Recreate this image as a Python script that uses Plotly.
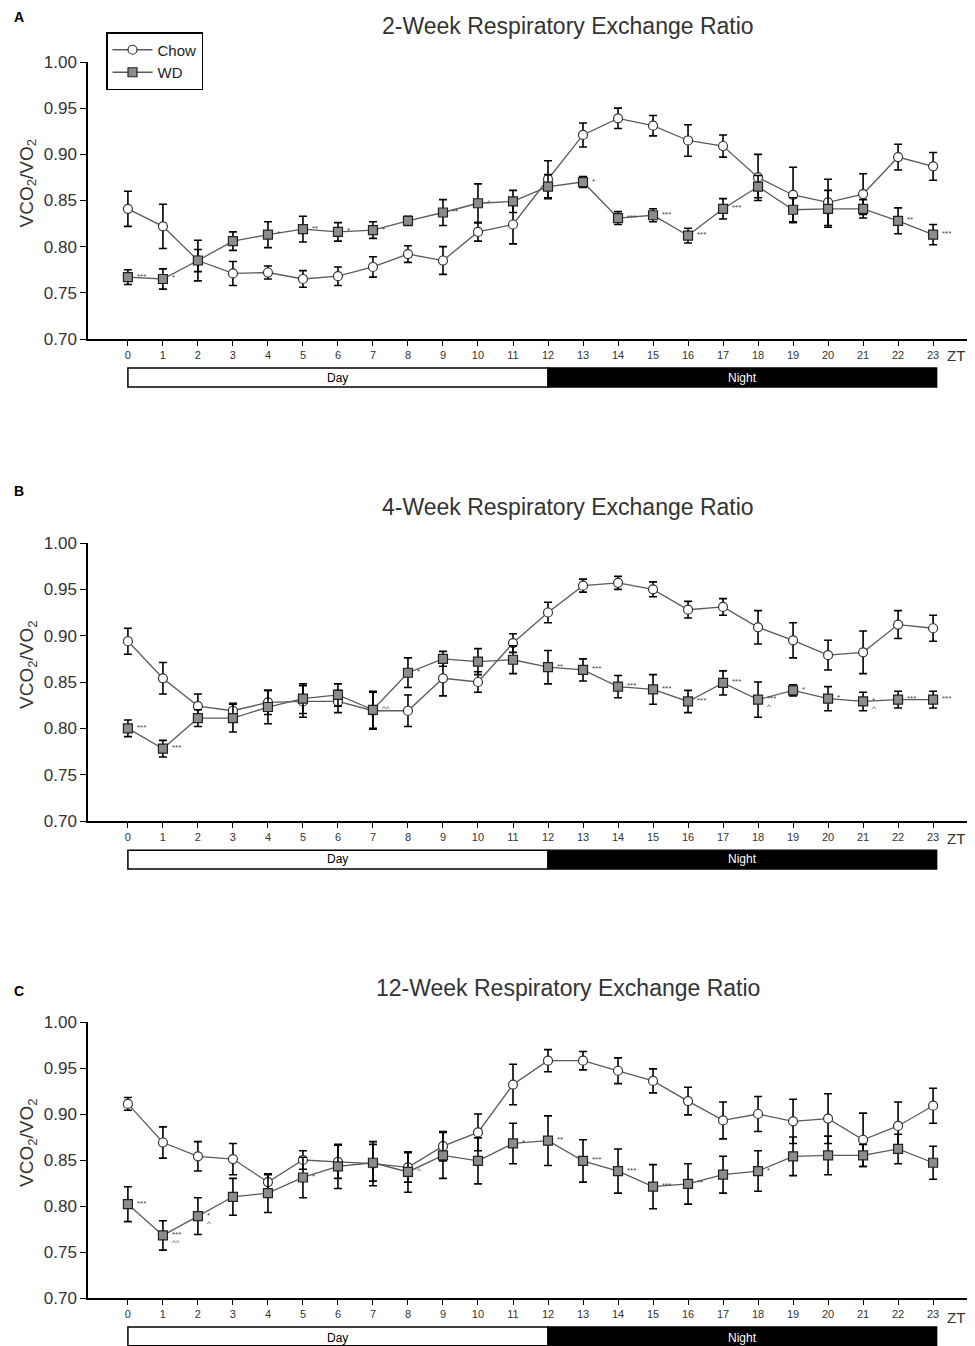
import plotly.graph_objects as go

zt = list(range(24))
zt_labels = [str(i) for i in zt]

# ---- 2-week ----
chow_2wk = [0.841, 0.822, 0.785, 0.771, 0.772, 0.765, 0.768, 0.778, 0.792, 0.785, 0.816, 0.824,
            0.873, 0.921, 0.939, 0.931, 0.915, 0.909, 0.875, 0.856, 0.848, 0.857, 0.897, 0.887]
chow_2wk_err = [0.019, 0.024, 0.012, 0.013, 0.007, 0.009, 0.010, 0.011, 0.009, 0.015, 0.010, 0.021,
                0.020, 0.013, 0.011, 0.011, 0.017, 0.012, 0.025, 0.030, 0.025, 0.022, 0.014, 0.015]
wd_2wk = [0.767, 0.765, 0.785, 0.806, 0.813, 0.819, 0.816, 0.818, 0.828, 0.837, 0.847, 0.849,
          0.865, 0.870, 0.831, 0.834, 0.812, 0.841, 0.865, 0.840, 0.841, 0.841, 0.828, 0.813]
wd_2wk_err = [0.008, 0.011, 0.022, 0.010, 0.014, 0.014, 0.010, 0.009, 0.005, 0.014, 0.021, 0.012,
              0.013, 0.006, 0.007, 0.007, 0.008, 0.011, 0.012, 0.013, 0.020, 0.010, 0.014, 0.011]
sig_2wk = ["***", "*", "", "", "*", "**", "*", "*", "", "**", "^", "",
           "", "*", "***", "***", "***", "***", "", "", "", "", "**", "***"]
hat_2wk = [""] * 24

# ---- 4-week ----
chow_4wk = [0.894, 0.854, 0.824, 0.819, 0.828, 0.829, 0.829, 0.819, 0.819, 0.854, 0.850, 0.892,
            0.925, 0.954, 0.957, 0.950, 0.928, 0.931, 0.909, 0.895, 0.879, 0.882, 0.912, 0.908]
chow_4wk_err = [0.014, 0.017, 0.013, 0.008, 0.013, 0.017, 0.012, 0.020, 0.017, 0.019, 0.011, 0.010,
                0.011, 0.007, 0.007, 0.008, 0.009, 0.009, 0.018, 0.019, 0.016, 0.023, 0.015, 0.014]
wd_4wk = [0.800, 0.778, 0.811, 0.811, 0.823, 0.832, 0.836, 0.820, 0.860, 0.875, 0.872, 0.874,
          0.866, 0.863, 0.845, 0.842, 0.829, 0.849, 0.831, 0.841, 0.832, 0.829, 0.831, 0.831]
wd_4wk_err = [0.009, 0.009, 0.009, 0.015, 0.018, 0.016, 0.012, 0.020, 0.016, 0.008, 0.014, 0.015,
              0.018, 0.012, 0.012, 0.016, 0.012, 0.013, 0.019, 0.006, 0.013, 0.010, 0.009, 0.009]
sig_4wk = ["***", "***", "", "", "", "", "", "^^", "*", "", "", "",
           "**", "***", "***", "***", "***", "***", "***", "*", "*", "*", "***", "***"]
hat_4wk = [""] * 18 + ["^", "", "", "^", "", ""]

# ---- 12-week ----
chow_12wk = [0.911, 0.869, 0.854, 0.851, 0.826, 0.850, 0.848, 0.846, 0.842, 0.865, 0.880, 0.932,
             0.958, 0.958, 0.947, 0.936, 0.914, 0.893, 0.900, 0.892, 0.895, 0.872, 0.887, 0.909]
chow_12wk_err = [0.007, 0.017, 0.016, 0.017, 0.008, 0.010, 0.018, 0.024, 0.016, 0.016, 0.020, 0.022,
                 0.012, 0.010, 0.014, 0.013, 0.015, 0.020, 0.019, 0.024, 0.027, 0.029, 0.026, 0.019]
wd_12wk = [0.802, 0.768, 0.789, 0.810, 0.814, 0.831, 0.843, 0.847, 0.837, 0.855, 0.849, 0.868,
           0.871, 0.849, 0.838, 0.821, 0.824, 0.834, 0.838, 0.854, 0.855, 0.855, 0.862, 0.847]
wd_12wk_err = [0.019, 0.016, 0.020, 0.020, 0.021, 0.022, 0.024, 0.020, 0.022, 0.025, 0.025, 0.022,
               0.027, 0.023, 0.024, 0.024, 0.022, 0.020, 0.022, 0.021, 0.021, 0.012, 0.016, 0.018]
sig_12wk = ["***", "***", "*", "", "", "*", "", "", "^", "", "", "*",
            "**", "***", "***", "***", "**", "", "*", "", "", "", "", ""]
hat_12wk = ["", "^^", "^", ""] + [""] * 20

panels = [
    ("A", "2-Week Respiratory Exchange Ratio", chow_2wk, chow_2wk_err, wd_2wk, wd_2wk_err, sig_2wk, hat_2wk),
    ("B", "4-Week Respiratory Exchange Ratio", chow_4wk, chow_4wk_err, wd_4wk, wd_4wk_err, sig_4wk, hat_4wk),
    ("C", "12-Week Respiratory Exchange Ratio", chow_12wk, chow_12wk_err, wd_12wk, wd_12wk_err, sig_12wk, hat_12wk),
]

W, H = 975.0, 1346.0
OFF = 8  # page body margin


def fx(p):  # target page pixel -> paper x
    return (p - OFF) / W


def fy(p):  # target page pixel -> paper y
    return 1 - (p - OFF) / H


# target page pixels
pix = [(62, 339), (543, 821), (1022, 1298)]     # axis top / bottom
label_y = [17, 491, 991]
title_y = [26, 507, 988]
bar_y = [377.5, 858.5, 1337.5]
zt_y = [356, 838, 1317]

FONT = "Arial, Liberation Sans, sans-serif"
fig = go.Figure()
shapes = []
annotations = []

for k, (lab, title, chow, chow_e, wd, wd_e, sig, hat) in enumerate(panels):
    sfx = "" if k == 0 else str(k + 1)
    xa, ya = "x" + sfx, "y" + sfx
    fig.add_trace(go.Scatter(
        x=zt, y=chow, name="Chow", mode="lines+markers", xaxis=xa, yaxis=ya,
        line=dict(color="#5a5a5a", width=1.3),
        marker=dict(symbol="circle", size=9, color="white", line=dict(color="#333333", width=1.2)),
        error_y=dict(type="data", array=chow_e, visible=True, color="black", thickness=1.6, width=4),
        showlegend=(k == 0)))
    fig.add_trace(go.Scatter(
        x=zt, y=wd, name="WD", mode="lines+markers", xaxis=xa, yaxis=ya,
        line=dict(color="#5a5a5a", width=1.3),
        marker=dict(symbol="square", size=9, color="#8c8c8c", line=dict(color="#222222", width=1.2)),
        error_y=dict(type="data", array=wd_e, visible=True, color="black", thickness=1.6, width=4),
        showlegend=(k == 0)))

    top, bot = pix[k]
    fig.layout["xaxis" + sfx] = dict(
        domain=[fx(88), fx(973)], range=[-1.14, 24.14], anchor=ya, automargin=False,
        tickmode="array", tickvals=zt, ticktext=zt_labels, ticks="outside", ticklen=5,
        tickcolor="black", showline=True, linecolor="black", linewidth=1.5,
        showgrid=False, zeroline=False, tickfont=dict(size=11, color="#333333", family=FONT))
    fig.layout["yaxis" + sfx] = dict(
        domain=[fy(bot), fy(top)], range=[0.70, 1.00], anchor=xa, automargin=False,
        tickmode="array", tickvals=[0.70, 0.75, 0.80, 0.85, 0.90, 0.95, 1.00],
        tickformat=".2f", ticks="outside", ticklen=6, tickcolor="black",
        showline=True, linecolor="black", linewidth=1.5, showgrid=False, zeroline=False,
        tickfont=dict(size=17, color="#333333", family=FONT))

    # y-axis title (sits a little above the axis centre in the reference)
    annotations.append(dict(x=fx(28), y=fy((top + bot) / 2 - 17), xref="paper", yref="paper",
                            text="VCO<sub>2</sub>/VO<sub>2</sub>", textangle=-90, showarrow=False,
                            xanchor="center", yanchor="middle",
                            font=dict(size=19, color="#333333", family=FONT)))

    dom = ya + " domain"
    shapes.append(dict(type="rect", xref=xa, yref=dom, x0=0, x1=12, y0=-0.173, y1=-0.105,
                       fillcolor="white", line=dict(color="black", width=1.5)))
    shapes.append(dict(type="rect", xref=xa, yref=dom, x0=12, x1=23.1, y0=-0.173, y1=-0.105,
                       fillcolor="black", line=dict(color="black", width=1.5)))
    annotations.append(dict(x=6, y=fy(bar_y[k]), xref=xa, yref="paper", text="Day", showarrow=False,
                            yanchor="middle", font=dict(size=12, color="black", family=FONT)))
    annotations.append(dict(x=17.55, y=fy(bar_y[k]), xref=xa, yref="paper", text="Night", showarrow=False,
                            yanchor="middle", font=dict(size=12, color="white", family=FONT)))
    annotations.append(dict(x=fx(956), y=fy(zt_y[k]), xref="paper", yref="paper", text="ZT",
                            showarrow=False, xanchor="center", yanchor="middle",
                            font=dict(size=15, color="#333333", family=FONT)))
    annotations.append(dict(x=fx(568), y=fy(title_y[k]), xref="paper", yref="paper",
                            text=title, showarrow=False, xanchor="center", yanchor="middle",
                            font=dict(size=23, color="#333333", family=FONT)))
    annotations.append(dict(x=fx(12), y=fy(label_y[k]), xref="paper", yref="paper",
                            text="<b>" + lab + "</b>", showarrow=False, xanchor="left", yanchor="middle",
                            font=dict(size=14, color="black", family=FONT)))
    for i in zt:
        if sig[i]:
            annotations.append(dict(x=i + 0.2, y=wd[i], xref=xa, yref=ya, text=sig[i],
                                    showarrow=False, xanchor="left", yanchor="middle", yshift=1,
                                    font=dict(size=8, color="#444444", family=FONT)))
        if hat[i]:
            annotations.append(dict(x=i + 0.2, y=wd[i], xref=xa, yref=ya, text=hat[i],
                                    showarrow=False, xanchor="left", yanchor="middle", yshift=-7,
                                    font=dict(size=8, color="#444444", family=FONT)))

fig.update_layout(
    width=975, height=1346,
    margin=dict(l=0, r=0, t=0, b=0, autoexpand=False),
    paper_bgcolor="white", plot_bgcolor="white",
    font=dict(family=FONT),
    shapes=shapes, annotations=annotations,
    legend=dict(x=fx(106), y=fy(32), xanchor="left", yanchor="top",
                bgcolor="white", bordercolor="black", borderwidth=1.5,
                font=dict(size=15, color="#222222", family=FONT),
                tracegroupgap=0, itemwidth=40),
)

fig.write_html("out.html")
